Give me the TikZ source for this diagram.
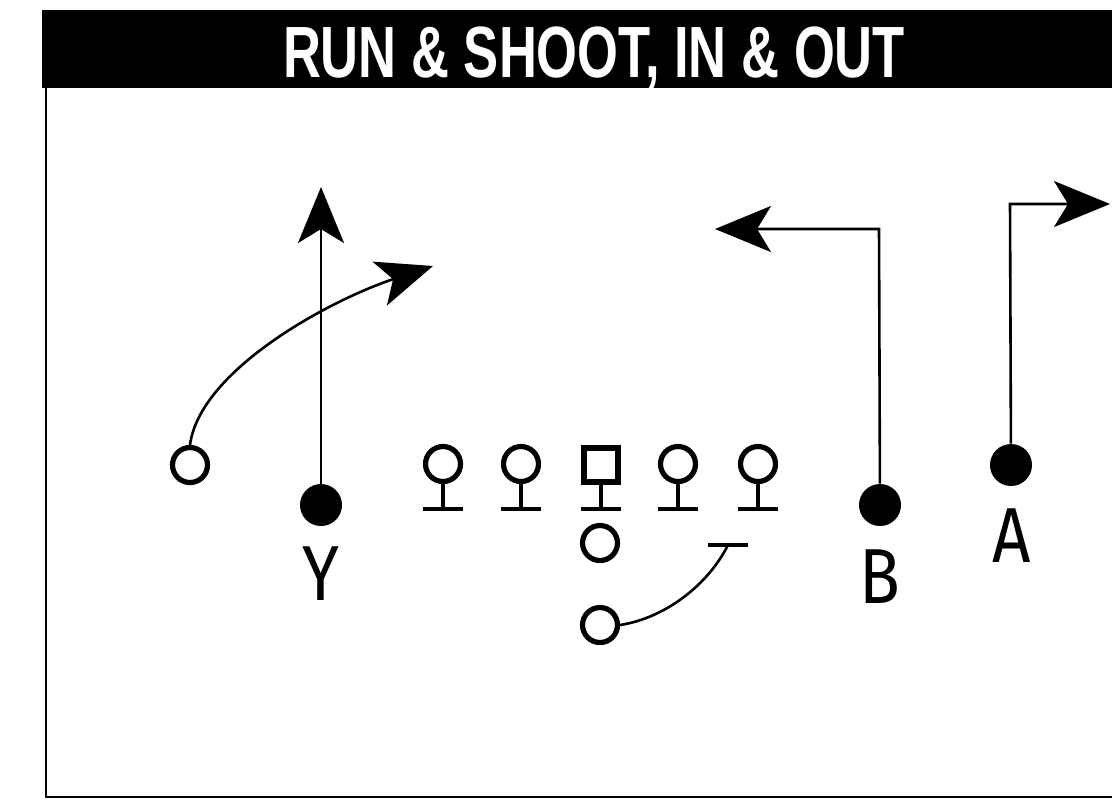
\documentclass[tikz,border=0pt]{standalone}
\usepackage{fontspec}
\setmainfont{Fira Sans}
\newfontfamily\titlefont{Liberation Sans}
\usetikzlibrary{arrows.meta}
\begin{document}
\begin{tikzpicture}[x=0.5pt,y=-0.5pt,
  openp/.style={circle,draw=black,line width=2.6pt,minimum size=17.5pt,inner sep=0pt},
  fullp/.style={circle,fill=black,draw=none,minimum size=21pt,inner sep=0pt},
  centerp/.style={rectangle,draw=black,line width=2.6pt,minimum size=17pt,inner sep=0pt},
  bar/.style={line width=2.4pt},
  route/.style={line width=1.3pt,-{Stealth[length=28pt,width=23pt,inset=7pt]}},
  plainroute/.style={line width=1.3pt},
  lbl/.style={anchor=base,inner sep=0pt},
]
\newcommand\plbl[1]{\scalebox{0.86}[1]{\fontsize{39}{39}\selectfont #1}}
\useasboundingbox (0,0) rectangle (1112,800);
\fill[white] (0,0) rectangle (1112,800);
% frame
\fill[black] (42,10) rectangle (1112,88);
\draw[line width=1pt] (46,88) -- (46,797) -- (1112,797);
\node[text=white,inner sep=0pt,anchor=base] (title) at (594,77)
  {\scalebox{0.724}[1]{\titlefont\bfseries\fontsize{36.3}{36.3}\selectfont RUN \& SHOOT, IN \& OUT}};
% players
\node[openp] (L) at (190,465) {};
\node[fullp] (Y) at (321,505) {};
\node[lbl] (Ylbl) at (321,600) {\plbl{Y}};
\foreach \n/\x in {T1/443,T2/521,T4/678,T5/758}{
  \node[openp] (\n) at (\x,464) {};
  \coordinate (\n b) at (\x,509);
  \draw[bar] (\n.south) -- (\n b);
  \draw[bar] ([xshift=-10pt]\n b) -- ([xshift=10pt]\n b);
}
\node[centerp] (C) at (601,465) {};
\coordinate (Cb) at (601,509);
\draw[bar] (C.south) -- (Cb);
\draw[bar] ([xshift=-10pt]Cb) -- ([xshift=10pt]Cb);
\node[openp] (QB) at (600,543) {};
\node[openp] (RB) at (600,625) {};
\node[fullp] (B) at (880,505) {};
\node[lbl] (Blbl) at (880,603) {\plbl{B}};
\node[fullp] (A) at (1011,465) {};
\node[lbl] (Albl) at (1012,562) {\plbl{A}};
% routes
\coordinate (Ytip) at (321,187);
\draw[route] (Y) -- (Ytip);
\coordinate (Ltip) at (433,266);
\draw[route] (L.north) .. controls (200,370) and (330,300) .. (Ltip);
\coordinate (Bk) at (879,229);
\coordinate (Btip) at (715,229);
\draw[route] (B) -- (Bk) -- (Btip);
\coordinate (Ak) at (1010,204);
\coordinate (Atip) at (1110,204);
\draw[route] (A) -- (Ak) -- (Atip);
\coordinate (RBend) at (728,545);
\draw[plainroute] (RB.east) .. controls (665,618) and (708,585) .. (RBend);
\draw[bar] ([xshift=-10pt]RBend) -- ([xshift=10pt]RBend);
\end{tikzpicture}
\end{document}
